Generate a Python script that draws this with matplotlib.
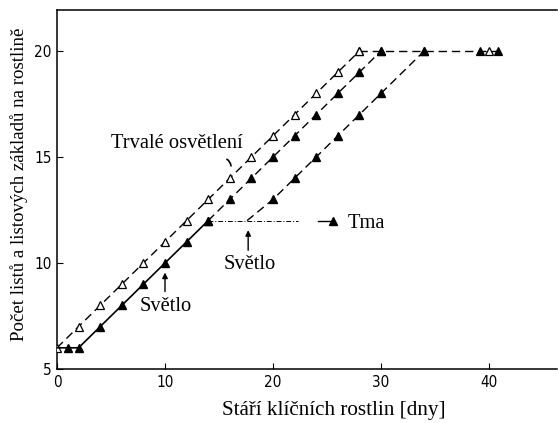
import matplotlib
matplotlib.use("Agg")
import matplotlib.pyplot as plt

# Continuous light (open triangles)
cont_x = [0, 2, 4, 6, 8, 10, 12, 14, 16, 18, 20, 22, 24, 26, 28]
cont_y = [6, 7, 8, 9, 10, 11, 12, 13, 14, 15, 16, 17, 18, 19, 20]

# Dark-grown seedlings, light given at day 10 (filled triangles)
dark_x = [0, 1, 2, 4, 6, 8, 10, 12, 14]
dark_y = [6, 6, 6, 7, 8, 9, 10, 11, 12]
light10_x = [14, 16, 18, 20, 22, 24, 26, 28, 30]
light10_y = [12, 13, 14, 15, 16, 17, 18, 19, 20]

# Dark plateau and transfer to light at day ~17.6
plateau_x = [14, 22.3]
plateau_y = [12, 12]
tma_x = [24.2, 25.6]
tma_y = [12, 12]
light18_x = [17.6, 20, 22, 24, 26, 28, 30, 34]
light18_y = [12, 13, 14, 15, 16, 17, 18, 20]

# Final leaf number plateau
final_x = [28, 30, 34, 39.2, 40, 40.8]
final_y = [20, 20, 20, 20, 20, 20]
final_filled = [False, True, True, True, False, True]

x_ticks = [0, 10, 20, 30, 40]
y_ticks = [5, 10, 15, 20]

serif = "Liberation Serif"
dash = (0, (6, 3.5))

fig = plt.figure(figsize=(5.58, 4.23), dpi=100)
ax = fig.add_axes([57 / 558, 1 - 369 / 423, (557 - 57) / 558, (369 - 10) / 423])
ax.set_xlim(0, (557 - 57) / 10.8)
ax.set_ylim(5, 5 + 359 / 21.2)

ms = 6
lw = 1.0
k = "black"

# continuous light
ax.plot(cont_x, cont_y, ls=dash, color=k, lw=lw, marker="^", ms=ms,
        mfc="white", mec=k, mew=0.9, zorder=3)
# dark growth, solid
ax.plot(dark_x, dark_y, ls="-", color=k, lw=lw + 0.2, marker="^", ms=ms,
        mfc=k, mec=k, markevery=slice(1, None), zorder=3)
ax.plot(light10_x, light10_y, ls=dash, color=k, lw=lw, marker="^", ms=ms,
        mfc=k, mec=k, zorder=3)
# dark plateau
ax.plot(plateau_x, plateau_y, ls=(0, (5, 2, 1, 2)), color=k, lw=0.7)
ax.plot(tma_x, tma_y, ls="-", color=k, lw=lw)
ax.plot(tma_x[-1:], tma_y[-1:], ls="none", marker="^", ms=ms, mfc=k, mec=k)
# light after dark plateau
ax.plot(light18_x, light18_y, ls=dash, color=k, lw=lw, zorder=2)
ax.plot(light18_x[1:], light18_y[1:], ls="none", marker="^", ms=ms,
        mfc=k, mec=k, zorder=3)
# final plateau
ax.plot(final_x, final_y, ls=dash, color=k, lw=lw, zorder=2)
for fx, fy, filled in zip(final_x, final_y, final_filled):
    ax.plot([fx], [fy], ls="none", marker="^", ms=ms,
            mfc=k if filled else "white", mec=k, mew=0.9, zorder=4)

# annotations
tfs = 14.8
ax.text(11.06, 15.66, "Trvalé osvětlení", family=serif, fontsize=tfs,
        ha="center", va="center")
ax.annotate("", xy=(16.1, 14.45), xytext=(15.5, 14.95),
            arrowprops=dict(arrowstyle="-", color=k, lw=1.2,
                            connectionstyle="arc3,rad=-0.4"))
ax.text(10.1, 7.97, "Světlo", family=serif, fontsize=tfs, ha="center", va="center")
ax.annotate("", xy=(10, 9.55), xytext=(10, 8.65),
            arrowprops=dict(arrowstyle="-|>", color=k, lw=1.0,
                            mutation_scale=8, shrinkA=0, shrinkB=0))
ax.text(17.87, 9.95, "Světlo", family=serif, fontsize=tfs, ha="center", va="center")
ax.annotate("", xy=(17.7, 11.55), xytext=(17.7, 10.6),
            arrowprops=dict(arrowstyle="-|>", color=k, lw=1.0,
                            mutation_scale=8, shrinkA=0, shrinkB=0))
ax.text(26.9, 11.84, "Tma", family=serif, fontsize=tfs, ha="left", va="center")

# axes styling
ax.spines["right"].set_visible(False)
for s in ("left", "bottom", "top"):
    ax.spines[s].set_linewidth(1.1)
ax.set_xticks(x_ticks)
ax.set_yticks(y_ticks)
ax.tick_params(direction="in", length=4, width=0.8, pad=4,
               top=False, right=False)
for lab in ax.get_xticklabels() + ax.get_yticklabels():
    lab.set_family("DejaVu Sans")
    lab.set_fontstretch("condensed")
    lab.set_fontsize(11)

ax.set_xlabel("Stáří klíčních rostlin [dny]", family=serif, fontsize=15.2,
              va="center")
ax.xaxis.set_label_coords((334 - 57) / 500, -(410 - 369) / 359)
ax.set_ylabel("Počet listů a listových základů na rostlině", family=serif,
              fontsize=13.6)
ax.yaxis.set_label_coords(-(57 - 28) / 500, (369 - 184) / 359)

fig.savefig("out.png", dpi=100)
